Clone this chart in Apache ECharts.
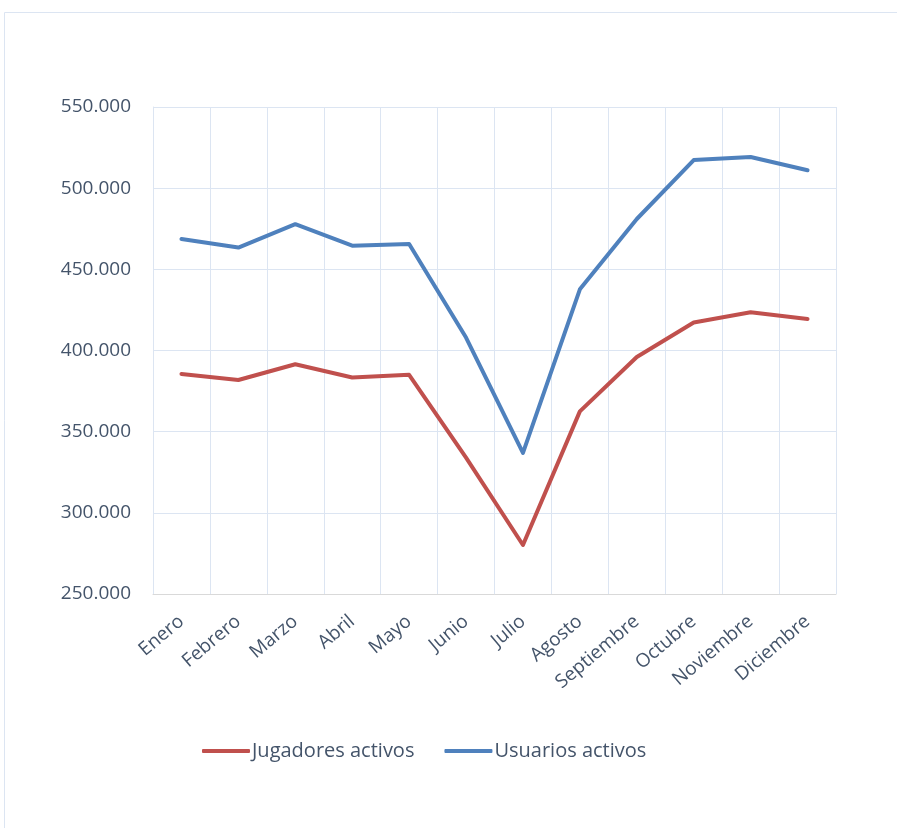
<!DOCTYPE html>
<html><head><meta charset="utf-8">
<script src="https://cdn.jsdelivr.net/npm/echarts@6/dist/echarts.min.js"></script>
<style>html,body{margin:0;padding:0;background:#fff}#c{width:897px;height:828px}</style>
</head><body><div id="c"></div>
<script>
const categories = ['Enero','Febrero','Marzo','Abril','Mayo','Junio','Julio','Agosto','Septiembre','Octubre','Noviembre','Diciembre'];
const jugadores = [385500, 381800, 391500, 383400, 385000, 334000, 280200, 362500, 396000, 417300, 423600, 419400];
const usuarios = [468700, 463400, 477800, 464600, 465600, 408000, 336900, 437700, 481000, 517300, 519200, 511000];
const yTicks = { min: 250000, max: 550000, interval: 50000 };

const txt = '#44546a';
const font = "'Open Sans', 'Noto Sans', sans-serif";
const chart = echarts.init(document.getElementById('c'), null, { renderer: 'canvas' });
chart.setOption({
  animation: false,
  backgroundColor: '#fff',
  graphic: [{ type: 'rect', shape: { x: 4.5, y: 12.5, width: 1000, height: 1000 }, style: { fill: 'none', stroke: '#dce5f2', lineWidth: 1 }, silent: true }],
  grid: { left: 153, right: 61, top: 107, bottom: 234 },
  legend: {
    left: 197, top: 736,
    itemWidth: 48, itemHeight: 4, itemGap: 30,
    icon: 'roundRect',
    textStyle: { color: txt, fontSize: 20, fontFamily: font, padding: [0, 0, 0, -3] },
    data: ['Jugadores activos', 'Usuarios activos']
  },
  xAxis: {
    type: 'category', data: categories, boundaryGap: true,
    axisLine: { lineStyle: { color: '#d9d9d9', width: 1 } },
    axisTick: { show: false },
    splitLine: { show: true, lineStyle: { color: '#dce5f2', width: 1 } },
    axisLabel: { rotate: 40, color: txt, fontSize: 19, fontFamily: font, margin: 25, interval: 0 }
  },
  yAxis: {
    type: 'value', min: yTicks.min, max: yTicks.max, interval: yTicks.interval,
    axisLine: { show: true, lineStyle: { color: '#dce5f2' } },
    axisTick: { show: false },
    splitLine: { lineStyle: { color: '#dce5f2', width: 1 } },
    axisLabel: { color: txt, fontSize: 19, fontFamily: font, margin: 22,
      formatter: v => String(v).replace(/\B(?=(\d{3})+(?!\d))/g, '.') }
  },
  series: [
    { name: 'Jugadores activos', type: 'line', data: jugadores, showSymbol: false, symbol: 'none',
      lineStyle: { color: '#c0504d', width: 4, cap: 'round', join: 'round' }, itemStyle: { color: '#c0504d' } },
    { name: 'Usuarios activos', type: 'line', data: usuarios, showSymbol: false, symbol: 'none',
      lineStyle: { color: '#4f81bd', width: 4, cap: 'round', join: 'round' }, itemStyle: { color: '#4f81bd' } }
  ]
});
</script></body></html>
